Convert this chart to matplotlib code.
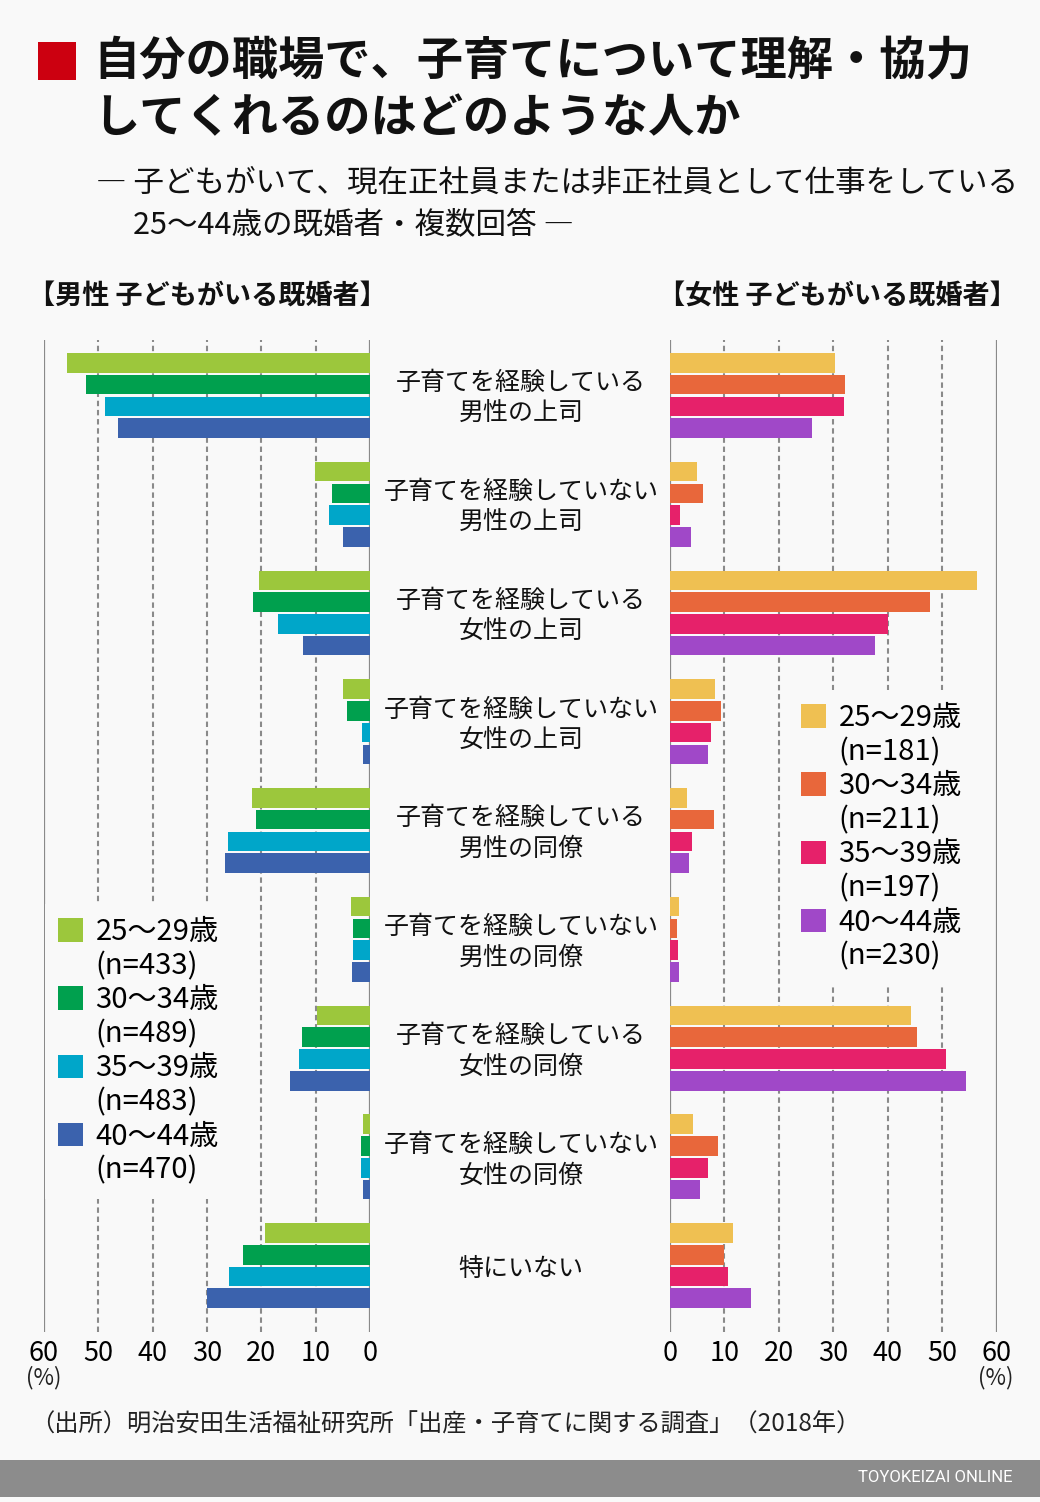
import matplotlib
matplotlib.use('Agg')
import matplotlib.pyplot as plt
from matplotlib.patches import Rectangle, Patch
from matplotlib.transforms import blended_transform_factory
import numpy as np

plt.rcParams['font.family'] = ['Noto Sans CJK JP', 'DejaVu Sans']

# ---------------- data ----------------
categories = ["子育てを経験している\n男性の上司", "子育てを経験していない\n男性の上司",
              "子育てを経験している\n女性の上司", "子育てを経験していない\n女性の上司",
              "子育てを経験している\n男性の同僚", "子育てを経験していない\n男性の同僚",
              "子育てを経験している\n女性の同僚", "子育てを経験していない\n女性の同僚",
              "特にいない"]

age_groups = ["25～29歳", "30～34歳", "35～39歳", "40～44歳"]
male_n = ["(n=433)", "(n=489)", "(n=483)", "(n=470)"]
female_n = ["(n=181)", "(n=211)", "(n=197)", "(n=230)"]

male_25_29 = [55.8, 10.1, 20.4, 4.9, 21.7, 3.5, 9.7, 1.2, 19.3]
male_30_34 = [52.3, 7.0, 21.5, 4.3, 21.0, 3.1, 12.5, 1.7, 23.3]
male_35_39 = [48.8, 7.5, 17.0, 1.5, 26.1, 3.1, 13.1, 1.7, 26.0]
male_40_44 = [46.3, 4.9, 12.4, 1.3, 26.7, 3.4, 14.7, 1.3, 30.0]

female_25_29 = [30.3, 4.9, 56.3, 8.2, 3.2, 1.6, 44.2, 4.3, 11.5]
female_30_34 = [32.1, 6.1, 47.8, 9.4, 8.0, 1.3, 45.4, 8.9, 10.0]
female_35_39 = [31.9, 1.9, 40.1, 7.5, 4.0, 1.4, 50.7, 7.0, 10.7]
female_40_44 = [26.0, 3.9, 37.7, 6.9, 3.4, 1.6, 54.3, 5.6, 14.8]

x_ticks = [0, 10, 20, 30, 40, 50, 60]

male_series = [male_25_29, male_30_34, male_35_39, male_40_44]
female_series = [female_25_29, female_30_34, female_35_39, female_40_44]
male_colors = ['#9cc73c', '#00a04e', '#00a6c9', '#3b62ad']
female_colors = ['#efc052', '#e8673b', '#e6216a', '#a048c8']

# ---------------- figure ----------------
W, H = 1040, 1502
BG = '#f9f9f9'
GRID = '#8a8a8a'
fig = plt.figure(figsize=(W / 100, H / 100), dpi=100)
fig.patch.set_facecolor(BG)

ax_top, ax_bot = 340, 1332
axL = fig.add_axes([44 / W, 1 - ax_bot / H, 326 / W, (ax_bot - ax_top) / H])
axR = fig.add_axes([670 / W, 1 - ax_bot / H, 326.7 / W, (ax_bot - ax_top) / H])

n_cat = len(categories)
base = 5 * np.arange(n_cat)


def setup(ax, series, colors, xlim):
    ax.set_facecolor('none')
    for s in ax.spines.values():
        s.set_visible(False)
    ax.set_xlim(*xlim)
    ax.set_ylim(44.55, -1.05)
    handles = []
    for k, (vals, c) in enumerate(zip(series, colors)):
        b = ax.barh(base + k, vals, height=0.9, color=c, zorder=3)
        handles.append(b)
    for t in x_ticks:
        if t in (0, 60):
            ax.axvline(t, color=GRID, lw=1.6, zorder=1)
        else:
            ax.axvline(t, color=GRID, lw=1.5, ls=(0, (2.6, 1.8)), zorder=1)
    ax.set_xticks(x_ticks)
    ax.set_xticklabels([str(t) for t in x_ticks])
    ax.tick_params(axis='x', length=0, labelsize=19.5, pad=6)
    ax.set_yticks([])
    return handles


hL = setup(axL, male_series, male_colors, (60, 0))
hR = setup(axR, female_series, female_colors, (0, 60))


def make_legend(ax, colors, ns, anchor):
    handles, labels = [], []
    for c, a, n in zip(colors, age_groups, ns):
        handles.append(Patch(facecolor=c, edgecolor='none'))
        labels.append(a)
        handles.append(Patch(facecolor='none', edgecolor='none'))
        labels.append(n)
    leg = ax.legend(handles, labels, loc='upper left',
                    bbox_to_anchor=(anchor[0] / W, 1 - anchor[1] / H),
                    bbox_transform=fig.transFigure,
                    fontsize=21, frameon=True, facecolor=BG, edgecolor='none',
                    framealpha=1, fancybox=False, handlelength=0.86,
                    handleheight=0.86, handletextpad=0.42, labelspacing=0.14,
                    borderpad=0.45, borderaxespad=0)
    leg.set_zorder(6)
    return leg


make_legend(axL, male_colors, male_n, (45, 904))
make_legend(axR, female_colors, female_n, (788, 690))

# category labels in the centre column
trans = blended_transform_factory(fig.transFigure, axL.transData)
for i, cat in enumerate(categories):
    axL.text(521 / W, base[i] + 1.65, cat, transform=trans, ha='center',
             va='center', fontsize=18, linespacing=1.25, color='#111111')

# (%) labels
fig.text(44 / W, 1 - 1378 / H, '(%)', ha='center', va='center', fontsize=16, color='#222222')
fig.text(996 / W, 1 - 1378 / H, '(%)', ha='center', va='center', fontsize=16, color='#222222')

# title
fig.patches.append(Rectangle((38 / W, 1 - 80 / H), 38 / W, 38 / H,
                             transform=fig.transFigure, facecolor='#cc0010',
                             edgecolor='none'))
fig.text(93 / W, 1 - 61 / H, '自分の職場で、子育てについて理解・協力', ha='left',
         va='center', fontsize=33.3, fontweight='bold', color='#111111')
fig.text(93 / W, 1 - 118 / H, 'してくれるのはどのような人か', ha='left',
         va='center', fontsize=33.3, fontweight='bold', color='#111111')

# subtitle
fig.text(96 / W, 1 - 183 / H, '― 子どもがいて、現在正社員または非正社員として仕事をしている',
         ha='left', va='center', fontsize=22, color='#111111')
fig.text(133 / W, 1 - 225 / H, '25～44歳の既婚者・複数回答 ―',
         ha='left', va='center', fontsize=22, color='#111111')

# panel headers
fig.text(28 / W, 1 - 297 / H, '【男性 子どもがいる既婚者】', ha='left', va='center',
         fontsize=19.5, fontweight='bold', color='#111111')
fig.text(658 / W, 1 - 297 / H, '【女性 子どもがいる既婚者】', ha='left', va='center',
         fontsize=19.5, fontweight='bold', color='#111111')

# source
fig.text(30 / W, 1 - 1425 / H, '（出所）明治安田生活福祉研究所「出産・子育てに関する調査」（2018年）',
         ha='left', va='center', fontsize=17.5, color='#222222')

# footer bar
fig.patches.append(Rectangle((0, 1 - 1497 / H), 1, 37 / H, transform=fig.transFigure,
                             facecolor='#8c8c8c', edgecolor='none'))
fig.text(1012 / W, 1 - 1478 / H, 'TOYOKEIZAI ONLINE', ha='right', va='center',
         fontsize=12, color='white', family=['Roboto', 'DejaVu Sans'])

fig.savefig('out.png', dpi=100, facecolor=BG)
